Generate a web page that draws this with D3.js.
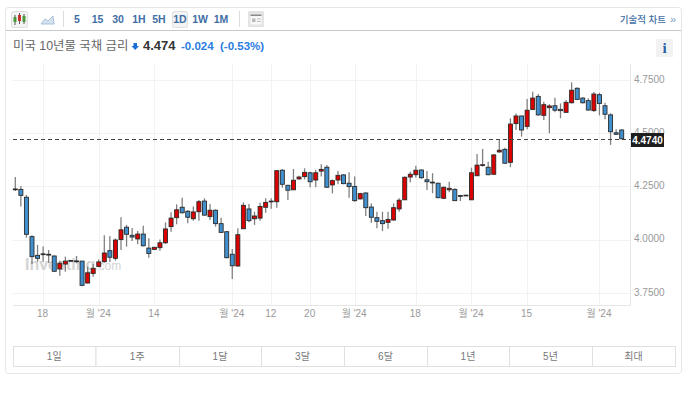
<!DOCTYPE html>
<html lang="ko">
<head>
    <meta charset="utf-8">
    <title>미국 10년물 국채 금리</title>
    <script src="https://d3js.org/d3.v7.min.js"></script>
    <style type="text/css">
        html, body { margin: 0; padding: 0; background: #fff; }
        svg { display: block; font-family: "Liberation Sans", "Noto Sans CJK KR", sans-serif; }
        .tick text { font-family: "Liberation Sans", "Noto Sans CJK KR", sans-serif; }
    </style>
</head>
<body>
<script type="text/javascript">
    var opens = [4.238,4.236,4.199,4.014,3.926,3.933,3.931,3.923,3.862,3.885,3.902,3.900,3.899,3.796,3.841,3.874,3.896,3.948,3.912,4.000,4.058,4.020,4.003,4.026,3.960,3.954,3.962,3.985,4.061,4.103,4.152,4.133,4.098,4.131,4.181,4.108,4.138,4.075,4.037,3.931,3.876,4.051,4.144,4.098,4.101,4.152,4.180,4.178,4.326,4.255,4.234,4.285,4.296,4.314,4.280,4.322,4.340,4.257,4.280,4.304,4.265,4.250,4.191,4.219,4.153,4.103,4.089,4.081,4.092,4.144,4.187,4.294,4.305,4.327,4.281,4.270,4.265,4.194,4.234,4.236,4.207,4.209,4.187,4.300,4.350,4.340,4.307,4.412,4.424,4.363,4.545,4.581,4.532,4.612,4.673,4.584,4.620,4.629,4.612,4.598,4.643,4.711,4.665,4.653,4.606,4.681,4.629,4.586,4.502,4.515];
    var highs = [4.294,4.252,4.210,4.021,3.975,3.967,3.951,3.925,3.901,3.920,3.904,3.923,3.900,3.873,3.885,3.907,4.021,4.017,4.006,4.105,4.069,4.054,4.040,4.065,4.006,3.965,4.001,4.081,4.128,4.166,4.197,4.139,4.155,4.186,4.194,4.167,4.142,4.103,4.040,3.956,4.053,4.175,4.167,4.131,4.173,4.194,4.194,4.327,4.332,4.258,4.332,4.300,4.335,4.319,4.327,4.354,4.351,4.283,4.322,4.308,4.316,4.296,4.220,4.222,4.170,4.131,4.131,4.131,4.170,4.194,4.296,4.319,4.347,4.330,4.322,4.312,4.267,4.249,4.272,4.241,4.210,4.210,4.338,4.402,4.426,4.366,4.401,4.468,4.432,4.570,4.593,4.582,4.661,4.695,4.684,4.648,4.636,4.667,4.640,4.656,4.739,4.716,4.669,4.664,4.694,4.690,4.643,4.594,4.518,4.518];
    var lows = [4.228,4.155,4.009,3.885,3.896,3.896,3.890,3.851,3.830,3.849,3.896,3.889,3.781,3.794,3.826,3.870,3.891,3.895,3.901,3.951,3.967,3.993,3.978,3.967,3.915,3.951,3.948,3.979,4.037,4.072,4.123,4.077,4.089,4.089,4.112,4.092,4.061,4.031,3.912,3.815,3.873,4.050,4.081,4.069,4.089,4.126,4.145,4.150,4.244,4.186,4.233,4.283,4.283,4.246,4.246,4.296,4.244,4.217,4.260,4.260,4.197,4.178,4.190,4.111,4.079,4.053,4.040,4.051,4.089,4.131,4.186,4.269,4.291,4.285,4.233,4.218,4.194,4.192,4.222,4.181,4.181,4.206,4.186,4.299,4.343,4.302,4.306,4.408,4.355,4.340,4.515,4.484,4.518,4.608,4.582,4.562,4.500,4.598,4.570,4.596,4.640,4.656,4.640,4.606,4.601,4.584,4.565,4.445,4.493,4.471];
    var closes = [4.236,4.208,4.025,3.920,3.912,3.931,3.930,3.851,3.889,3.899,3.900,3.899,3.785,3.844,3.865,3.895,3.937,3.917,3.998,4.046,4.025,4.012,4.026,3.971,3.935,3.964,3.985,4.050,4.101,4.140,4.126,4.105,4.130,4.178,4.115,4.138,4.075,4.034,3.915,3.877,4.023,4.161,4.089,4.111,4.156,4.175,4.181,4.324,4.260,4.232,4.279,4.294,4.316,4.272,4.314,4.330,4.246,4.277,4.302,4.263,4.249,4.183,4.216,4.150,4.105,4.086,4.075,4.095,4.150,4.185,4.293,4.307,4.326,4.291,4.272,4.269,4.197,4.246,4.241,4.183,4.206,4.208,4.314,4.350,4.352,4.305,4.398,4.420,4.359,4.543,4.581,4.515,4.608,4.665,4.586,4.634,4.628,4.608,4.606,4.645,4.702,4.659,4.643,4.609,4.684,4.640,4.589,4.507,4.495,4.474];

    var xTickIndex = [5, 15, 25, 39, 46, 53, 61, 72, 82, 92, 105];
    var xTickLabels = ["18", "월 '24", "14", "월 '24", "12", "20", "월 '24", "18", "월 '24", "15", "월 '24"];
    var yTickValues = [3.75, 4.0, 4.25, 4.5, 4.75];
    var lastPrice = 4.474;

    var intervalLabels = ["5", "15", "30", "1H", "5H", "1D", "1W", "1M"];
    var rangeLabels = ["1일", "1주", "1달", "3달", "6달", "1년", "5년", "최대"];

    var w = 698;
    var h = 393;

    var svg = d3.select("body")
        .append("svg")
        .attr("width", w)
        .attr("height", h);

    //card
    svg.append("rect")
        .attr("x", 5.5).attr("y", 7.5)
        .attr("width", 676).attr("height", 366)
        .attr("rx", 3)
        .attr("fill", "#fff")
        .attr("stroke", "#e6e6e6");
    svg.append("line")
        .attr("x1", 6).attr("x2", 681)
        .attr("y1", 30.5).attr("y2", 30.5)
        .attr("stroke", "#c8c8c8");

    //toolbar
    var intervalX = [77, 97.5, 118, 139, 159, 180, 200, 221];
    svg.append("rect")
        .attr("x", 11.5).attr("y", 11.5).attr("width", 16).attr("height", 16)
        .attr("rx", 2).attr("fill", "#f3f3f3").attr("stroke", "#dedede");
    [[15, 15, 25, 17, 22, "#4a9a3c"], [19.5, 13, 24, 15, 21, "#c9302c"], [24, 14, 24, 16, 22, "#4a9a3c"]].forEach(function(c) {
        svg.append("line").attr("x1", c[0]).attr("x2", c[0]).attr("y1", c[1]).attr("y2", c[2]).attr("stroke", "#555");
        svg.append("rect").attr("x", c[0] - 1.5).attr("y", c[3]).attr("width", 3).attr("height", c[4] - c[3]).attr("fill", c[5]);
    });
    svg.append("path")
        .attr("d", "M41,24 L45,19 L48,21 L53,16 L54,24 Z")
        .attr("fill", "#d5e2ef")
        .attr("stroke", "#a9c1d9");
    svg.append("rect")
        .attr("x", 172.5).attr("y", 11.5).attr("width", 15).attr("height", 16)
        .attr("rx", 2).attr("fill", "#f3f3f3").attr("stroke", "#dedede");
    svg.selectAll("text.interval")
        .data(intervalLabels)
        .enter()
        .append("text")
        .attr("class", "interval")
        .text(function(d) { return d; })
        .attr("x", function(d, i) { return intervalX[i]; })
        .attr("y", 23)
        .attr("text-anchor", "middle")
        .attr("font-size", "10.5px")
        .attr("font-weight", "bold")
        .attr("fill", "#3f6ea6");
    [63.5, 239.5].forEach(function(x) {
        svg.append("line").attr("x1", x).attr("x2", x).attr("y1", 11).attr("y2", 27).attr("stroke", "#ddd");
    });
    svg.append("rect")
        .attr("x", 248).attr("y", 11).attr("width", 16).attr("height", 16)
        .attr("rx", 1).attr("fill", "#e4e4e4");
    svg.append("rect")
        .attr("x", 250.5).attr("y", 14.5).attr("width", 11).attr("height", 10)
        .attr("fill", "#f7f7f7");
    svg.append("rect")
        .attr("x", 250.5).attr("y", 14.5).attr("width", 11).attr("height", 1.5)
        .attr("fill", "#888");
    svg.append("rect")
        .attr("x", 252).attr("y", 18.5).attr("width", 3.5).attr("height", 3.5)
        .attr("fill", "#bbb");
    svg.append("rect")
        .attr("x", 257).attr("y", 18.5).attr("width", 3.5).attr("height", 1)
        .attr("fill", "#bbb");
    svg.append("rect")
        .attr("x", 257).attr("y", 21).attr("width", 3.5).attr("height", 1)
        .attr("fill", "#bbb");
    svg.append("text")
        .text("기술적 차트")
        .attr("x", 666).attr("y", 23)
        .attr("text-anchor", "end")
        .attr("font-size", "9.5px")
        .attr("font-weight", "500")
        .attr("fill", "#3f6ea6");
    svg.append("text")
        .text("»")
        .attr("x", 676).attr("y", 23)
        .attr("text-anchor", "end")
        .attr("font-size", "11px")
        .attr("fill", "#7f9fc4");

    //title row
    svg.append("text")
        .text("미국 10년물 국채 금리")
        .attr("x", 13).attr("y", 50)
        .attr("font-size", "12.4px")
        .attr("fill", "#666");
    svg.append("path")
        .attr("d", "M133.5,43 L137,43 L137,46 L139,46 L135.2,50 L131.5,46 L133.5,46 Z")
        .attr("fill", "#1a6fd8");
    svg.append("text")
        .text(lastPrice.toFixed(3))
        .attr("x", 143).attr("y", 50)
        .attr("font-size", "13px")
        .attr("font-weight", "bold")
        .attr("fill", "#333");
    svg.append("text")
        .text("-0.024")
        .attr("x", 181).attr("y", 50)
        .attr("font-size", "11.5px")
        .attr("font-weight", "bold")
        .attr("fill", "#2a7de1");
    svg.append("text")
        .text("(-0.53%)")
        .attr("x", 220).attr("y", 50)
        .attr("font-size", "11.5px")
        .attr("font-weight", "bold")
        .attr("fill", "#2a7de1");
    svg.append("rect")
        .attr("x", 656).attr("y", 39).attr("width", 17).attr("height", 18)
        .attr("fill", "#f2f2f2");
    svg.append("text")
        .text("i")
        .attr("x", 664.5).attr("y", 53)
        .attr("text-anchor", "middle")
        .attr("font-family", "'Liberation Serif', serif")
        .attr("font-size", "15px")
        .attr("font-weight", "bold")
        .attr("fill", "#2a5fa5");

    //scales
    var xScale = d3.scaleLinear()
        .domain([0, closes.length - 1])
        .range([15.3, 621.7]);
    var yScale = d3.scaleLinear()
        .domain([3.75, 4.75])
        .range([292.8, 80]);

    var plotLeft = 13;
    var plotRight = 630.5;
    var plotTop = 64;
    var plotBottom = 305.5;

    //grid
    svg.append("g")
        .selectAll("line")
        .data(xTickIndex)
        .enter()
        .append("line")
        .attr("x1", function(d) { return Math.round(xScale(d)) + 0.5; })
        .attr("x2", function(d) { return Math.round(xScale(d)) + 0.5; })
        .attr("y1", plotTop)
        .attr("y2", plotBottom)
        .attr("stroke", "#f2f2f2");
    svg.append("g")
        .selectAll("line")
        .data(yTickValues)
        .enter()
        .append("line")
        .attr("x1", plotLeft)
        .attr("x2", plotRight)
        .attr("y1", function(d) { return Math.round(yScale(d)) + 0.5; })
        .attr("y2", function(d) { return Math.round(yScale(d)) + 0.5; })
        .attr("stroke", "#f2f2f2");
    svg.append("line")
        .attr("x1", plotRight).attr("x2", plotRight)
        .attr("y1", plotTop).attr("y2", plotBottom)
        .attr("stroke", "#e6e6e6");
    svg.append("line")
        .attr("x1", plotLeft).attr("x2", plotRight)
        .attr("y1", plotBottom).attr("y2", plotBottom)
        .attr("stroke", "#e6e6e6");

    //watermark
    var mark = svg.append("text")
        .attr("x", 25).attr("y", 270)
        .attr("font-size", "16px")
        .attr("fill", "#d4d4d4");
    mark.append("tspan").attr("font-weight", "bold").text("Investing");
    mark.append("tspan").attr("font-size", "12px").text(".com");

    //axes
    var xAxis = d3.axisBottom(xScale)
        .tickValues(xTickIndex)
        .tickSize(0)
        .tickPadding(4)
        .tickFormat(function(d, i) { return xTickLabels[i]; });
    var yAxis = d3.axisRight(yScale)
        .tickValues(yTickValues)
        .tickSize(0)
        .tickPadding(3.5)
        .tickFormat(d3.format(".4f"));

    var gx = svg.append("g")
        .attr("transform", "translate(-1," + plotBottom + ")")
        .call(xAxis);
    var gy = svg.append("g")
        .attr("transform", "translate(" + plotRight + ",-1)")
        .call(yAxis);
    [gx, gy].forEach(function(g) {
        g.select(".domain").remove();
        g.selectAll("text")
            .attr("font-size", "10px")
            .attr("fill", "#999");
    });

    //candles
    var candle = svg.append("g")
        .selectAll("g")
        .data(closes)
        .enter()
        .append("g");
    candle.append("line")
        .attr("x1", function(d, i) { return xScale(i); })
        .attr("x2", function(d, i) { return xScale(i); })
        .attr("y1", function(d, i) { return yScale(highs[i]); })
        .attr("y2", function(d, i) { return yScale(lows[i]); })
        .attr("stroke", "#808080")
        .attr("stroke-width", 1.3);
    candle.append("rect")
        .attr("x", function(d, i) { return xScale(i) - 2; })
        .attr("y", function(d, i) { return yScale(Math.max(opens[i], closes[i])); })
        .attr("width", 4)
        .attr("height", function(d, i) {
            return Math.max(0.8, Math.abs(yScale(opens[i]) - yScale(closes[i])));
        })
        .attr("fill", function(d, i) { return closes[i] >= opens[i] ? "#dd0000" : "#4090d0"; })
        .attr("stroke", "#2a2a2a")
        .attr("stroke-width", 0.9);

    //last price line
    svg.append("line")
        .attr("x1", plotLeft).attr("x2", plotRight)
        .attr("y1", Math.round(yScale(lastPrice)) + 0.5).attr("y2", Math.round(yScale(lastPrice)) + 0.5)
        .attr("stroke", "#444")
        .attr("stroke-dasharray", "4,3");
    svg.append("rect")
        .attr("x", 631).attr("y", Math.round(yScale(lastPrice)) - 6)
        .attr("width", 33).attr("height", 14)
        .attr("fill", "#1e1e1e");
    svg.append("text")
        .text(lastPrice.toFixed(4))
        .attr("x", 647.5).attr("y", Math.round(yScale(lastPrice)) + 4.5)
        .attr("text-anchor", "middle")
        .attr("font-size", "10px")
        .attr("font-weight", "bold")
        .attr("fill", "#fff");

    //range buttons
    var rangeEdges = [13, 95.5, 179, 261, 344, 427, 509, 592, 675];
    svg.append("g")
        .selectAll("rect")
        .data(rangeLabels)
        .enter()
        .append("rect")
        .attr("x", function(d, i) { return rangeEdges[i] + 0.5; })
        .attr("y", 346.5)
        .attr("width", function(d, i) { return rangeEdges[i + 1] - rangeEdges[i]; })
        .attr("height", 20)
        .attr("fill", "#fff")
        .attr("stroke", "#e0e0e0");
    svg.append("g")
        .selectAll("text")
        .data(rangeLabels)
        .enter()
        .append("text")
        .text(function(d) { return d; })
        .attr("x", function(d, i) { return (rangeEdges[i] + rangeEdges[i + 1]) / 2; })
        .attr("y", 360)
        .attr("text-anchor", "middle")
        .attr("font-size", "10px")
        .attr("fill", "#777");
</script>
</body>
</html>
